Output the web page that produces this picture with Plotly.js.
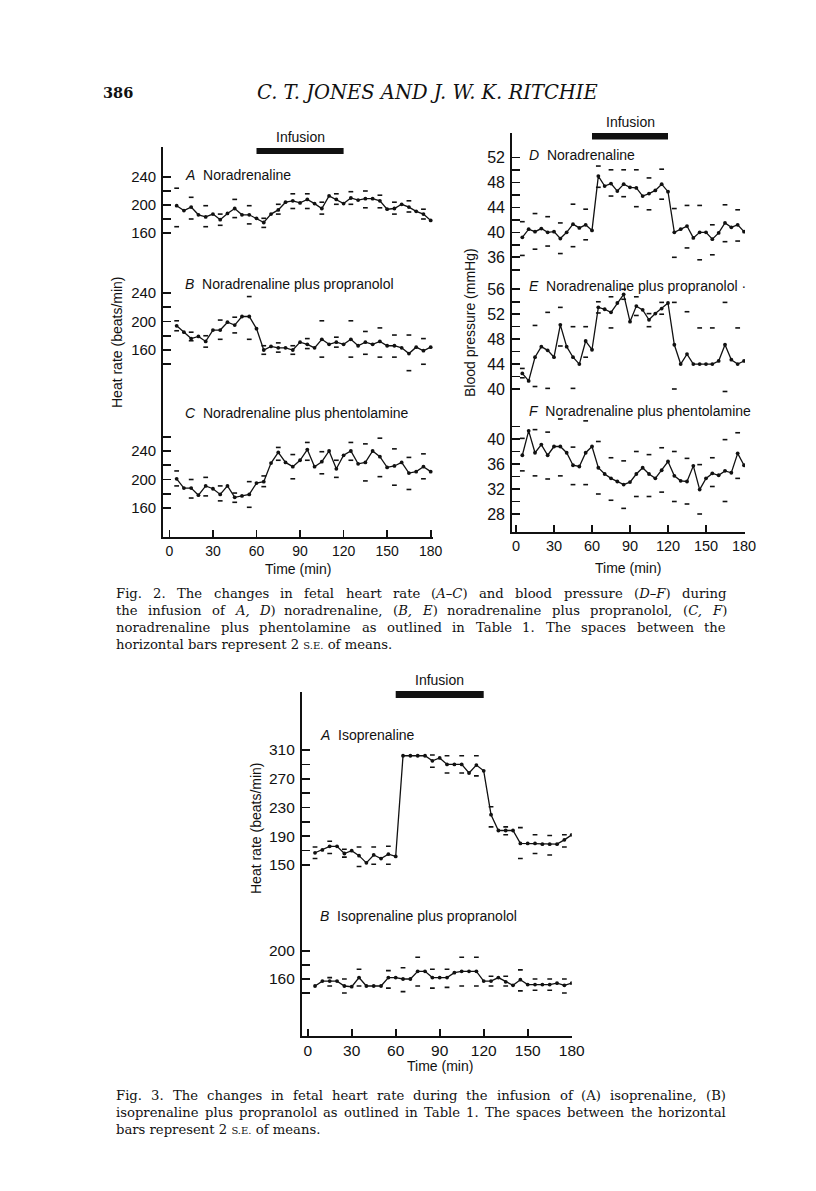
<!DOCTYPE html>
<html><head><meta charset="utf-8">
<script src="https://cdn.plot.ly/plotly-3.0.1.min.js"></script>
<style>html,body{margin:0;padding:0;background:#fff}#chart{width:816px;height:1191px}</style>
</head><body><div id="chart"></div>
<script>
// ---------- data ----------
const time = [5,10,15,20,25,30,35,40,45,50,55,60,65,70,75,80,85,90,95,100,105,110,115,120,125,130,135,140,145,150,155,160,165,170,175,180];
const seTime = [5,15,25,35,45,55,65,75,85,95,105,115,125,135,145,155,165,175];
const infusion = [60,120];
const timeTicks = [0,30,60,90,120,150,180];

// Fig. 2 A-C heart rate (beats/min)
const hrA = [199,192,197,186,183,187,179,188,195,186,186,181,175,187,193,204,206,203,208,202,195,213,208,202,210,207,209,209,206,194,195,201,197,191,187,178];
const hrAHi = [224,211,199,187,208,199,181,201,216,216,204,216,219,220,214,204,206,194];
const hrALo = [169,180,169,171,182,173,168,187,195,195,187,201,201,196,196,187,190,180];
const hrB = [194,185,176,179,172,188,188,199,195,207,207,190,160,165,163,163,160,171,168,163,175,168,171,168,175,166,171,168,172,166,166,163,155,164,159,164];
const hrBHi = [201,185,180,202,206,235,166,170,166,176,201,178,201,186,191,181,181,176];
const hrBLo = [187,173,164,175,184,175,154,157,154,162,150,164,150,154,150,150,131,140];
const hrC = [201,188,188,178,191,187,179,191,175,177,179,195,197,223,238,224,218,227,242,218,225,240,215,234,240,222,224,240,232,217,219,224,209,211,218,211];
const hrCHi = [212,200,203,191,181,197,205,245,235,252,239,227,252,250,258,243,231,236];
const hrCLo = [191,174,177,170,168,161,190,227,201,227,208,203,227,198,204,192,186,201];

// Fig. 2 D-F blood pressure (mmHg)
const bpD = [39.2,40.5,40.1,40.6,40,40.1,39,40,41.3,40.7,41.2,40.3,49,47.4,47.8,46.6,47.7,47.2,47.1,45.8,46.2,46.7,47.7,46.5,40,40.5,41,39.1,40,40,38.9,39.9,41.5,40.8,41.2,40.1];
const bpDHi = [41.7,43,42.5,41.5,44.5,43.7,50.6,50,50,50,48.7,50.1,43.8,44.3,44.3,41.2,44.4,43.6];
const bpDLo = [36.3,37.3,37.8,36.6,37.7,38.8,47.2,45.8,45.7,44.1,43.6,45.3,36,37.5,35.6,36.4,38.5,38.6];
const bpE = [42.5,41.3,45.1,46.8,46.2,45.1,50.3,46.8,45.1,44,47.7,46.3,53.1,52.8,52.3,53.8,55.2,50.8,53.3,52.7,51.1,52.1,52.9,53.8,47.1,44,45.6,44,44,44,44,44.5,47.1,44.7,44,44.5];
const bpEHi = [43.3,50.2,52.3,53.1,50,50,54,54.8,56,54.8,52.1,53.9,53.9,52.4,49.8,49.8,53.9,49.8];
const bpELo = [41.8,40.4,40.1,46.9,40.1,45.1,52.2,49.8,54.4,51.8,50,52,40,38.5,38.2,38.2,39.6,38.2];
const bpF = [37.4,41.3,37.8,39.1,37.4,38.8,38.8,37.8,35.8,35.6,37.8,38.8,35.4,34.4,33.7,33.2,32.7,33.1,34.4,35.4,34.4,33.7,35,36.4,34.1,33.3,33.2,35.7,31.9,33.7,34.5,34.2,34.9,34.6,37.7,35.8];
const bpFHi = [40.1,41.5,41.1,43.2,38.7,42.9,39.6,37,36.5,38,37.5,38.6,38,36.9,35.9,37,39.9,41];
const bpFLo = [34.9,34.1,33.6,34.1,32.7,32.7,31.2,30.2,28.9,30.8,30.8,31.5,30,29.6,28,32.4,30,33.7];

// Fig. 3 A-B heart rate (beats/min)
const isoA = [167,171,176,176,166,170,163,153,164,159,165,162,302,302,302,302,295,299,290,290,290,278,289,281,220,198,198,198,180,180,180,179,179,179,185,192];
const isoAHi = [175,183,172,175,175,176,null,null,303,302,302,302,231,203,202,192,191,192];
const isoALo = [159,166,161,148,151,151,null,null,286,278,278,274,203,192,159,166,164,175];
const isoB = [150,157,157,157,150,149,162,150,150,150,162,162,160,160,171,171,162,162,162,169,171,171,171,157,157,162,156,151,159,152,152,152,152,154,151,154];
const isoBHi = [null,162,160,174,null,172,176,191,174,174,191,191,164,164,173,160,160,160];
const isoBLo = [null,150,140,150,null,147,142,150,147,148,150,150,150,150,143,144,144,140];

// ---------- layout helpers ----------
const W = 816, H = 1191;
const SANS = 'Liberation Sans, Arial, Helvetica, sans-serif';
const SERIF = 'DejaVu Serif, serif';
const px = x => x / W, py = y => 1 - y / H;
function lin(v1, p1, v2, p2, pa, pb) { const k = (p2 - p1) / (v2 - v1); return [v1 + (pa - p1) / k, v1 + (pb - p1) / k]; }

const base = {showgrid:false, zeroline:false, showline:true, linecolor:'#111', linewidth:1.8,
  ticks:'inside', ticklen:8, tickwidth:1.6, tickcolor:'#111', fixedrange:true};

function yax(anchor, top, bot, cal, vals, labels, fs) {
  return Object.assign({}, base, {anchor:anchor, domain:[py(bot), py(top)],
    range: lin(cal[0], cal[1], cal[2], cal[3], bot, top),
    tickmode:'array', tickvals:vals, ticktext:vals.map(v => labels.includes(v) ? String(v) : ''),
    tickfont:{family:SANS, size:fs, color:'#111'}, ticklabelstandoff:2});
}
function xax(anchor, left, right, cal, fs) {
  return Object.assign({}, base, {anchor:anchor, domain:[px(left), px(right)],
    range: lin(cal[0], cal[1], cal[2], cal[3], left, right), ticklen:7,
    tickmode:'array', tickvals:timeTicks, ticktext:timeTicks.map(String),
    tickfont:{family:SANS, size:fs, color:'#111'}});
}

function panel(xa, ya, y, hi, lo) {
  return [
    {x:time, y:y, xaxis:xa, yaxis:ya, type:'scatter', mode:'lines+markers',
     line:{color:'#111', width:1.3}, marker:{color:'#111', size:3.8}, hoverinfo:'skip'},
    {x:seTime.concat(seTime), y:hi.concat(lo), xaxis:xa, yaxis:ya, type:'scatter', mode:'markers',
     marker:{symbol:'line-ew', size:3.4, color:'#111', line:{color:'#111', width:1.6}}, hoverinfo:'skip'}
  ];
}

const data = [].concat(
  panel('x','y',hrA,hrAHi,hrALo),
  panel('x','y2',hrB,hrBHi,hrBLo),
  panel('x','y3',hrC,hrCHi,hrCLo),
  panel('x2','y4',bpD,bpDHi,bpDLo),
  panel('x2','y5',bpE,bpEHi,bpELo),
  panel('x2','y6',bpF,bpFHi,bpFLo),
  panel('x3','y7',isoA,isoAHi,isoALo),
  panel('x3','y8',isoB,isoBHi,isoBLo)
);

const even = (a,b) => { const r=[]; for (let v=a; v<=b; v+=2) r.push(v); return r; };

const layout = {
  width:W, height:H, margin:{l:0,r:0,t:0,b:0}, paper_bgcolor:'#fff', plot_bgcolor:'rgba(0,0,0,0)',
  showlegend:false,
  xaxis:  xax('y3', 163, 433, [0,169.4,180,430.7], 14),
  xaxis2: xax('y6', 512, 745, [0,516,180,744], 14.5),
  xaxis3: xax('y8', 301.7, 571.7, [0,307.7,180,571.7], 15.5),
  yaxis:  yax('x', 147, 262, [240,177,160,233], [160,180,200,220,240], [160,200,240], 15),
  yaxis2: yax('x', 262, 390, [240,293,160,350], [140,160,180,200,220,240], [160,200,240], 15),
  yaxis3: yax('x', 390, 537, [240,451,160,508], [160,180,200,220,240,260], [160,200,240], 15),
  yaxis4: yax('x2', 133, 272, [52,157.3,36,257.3], even(34,52), [36,40,44,48,52], 16),
  yaxis5: yax('x2', 272, 395, [56,289.3,40,389], even(38,56), [40,44,48,52,56], 16),
  yaxis6: yax('x2', 395, 532, [40,439,28,514], even(28,42), [28,32,36,40], 16),
  yaxis7: yax('x3', 692, 900, [310,750,150,865], [150,170,190,210,230,250,270,290,310], [150,190,230,270,310], 15.5),
  yaxis8: yax('x3', 900, 1036, [200,951,160,979], [140,160,180,200], [160,200], 15.5),
  shapes: [
    {type:'rect', xref:'x', yref:'paper', x0:infusion[0], x1:infusion[1], y0:py(154), y1:py(148), fillcolor:'#111', line:{width:0}},
    {type:'rect', xref:'x2', yref:'paper', x0:infusion[0], x1:infusion[1], y0:py(139.5), y1:py(133), fillcolor:'#111', line:{width:0}},
    {type:'rect', xref:'x3', yref:'paper', x0:infusion[0], x1:infusion[1], y0:py(698), y1:py(691), fillcolor:'#111', line:{width:0}}
  ],
  annotations: []
};

function txt(x, y, text, opts) {
  layout.annotations.push(Object.assign({xref:'paper', yref:'paper', x:px(x), y:py(y), text:text,
    showarrow:false, xanchor:'left', yanchor:'middle', font:{family:SANS, size:14, color:'#111'}}, opts || {}));
}
const lbl = (l, s) => '<i>' + l + '</i>  ' + s;

// Infusion labels
['x','x2','x3'].forEach((xr, i) => layout.annotations.push({xref:xr, yref:'paper', x:90, y:py([137,122,680][i]),
  text:'Infusion', showarrow:false, xanchor:'center', yanchor:'middle', font:{family:SANS, size:14, color:'#111'}}));

// Panel labels
txt(183, 175, lbl('A','Noradrenaline'));
txt(183, 284, lbl('B','Noradrenaline plus propranolol'));
txt(183, 413, lbl('C','Noradrenaline plus phentolamine'));
txt(527, 155, lbl('D','Noradrenaline'));
txt(527, 286, lbl('E','Noradrenaline plus propranolol') + ' ·');
txt(527, 411, lbl('F','Noradrenaline plus phentolamine'));
txt(318, 735, lbl('A','Isoprenaline'));
txt(318, 916, lbl('B','Isoprenaline plus propranolol'));

// Axis titles
txt(117, 342, 'Heat rate (beats/min)', {xanchor:'center', textangle:-90});
txt(470, 322, 'Blood pressure (mmHg)', {xanchor:'center', textangle:-90});
txt(256, 828, 'Heat rate (beats/min)', {xanchor:'center', textangle:-90});
txt(298, 569, 'Time (min)', {xanchor:'center'});
txt(628, 568, 'Time (min)', {xanchor:'center'});
txt(440, 1066, 'Time (min)', {xanchor:'center'});

// Page header
txt(101, 92, '<b>386</b>', {font:{family:SERIF, size:14.5, color:'#111'}});
txt(427, 92, '<i>C. T. JONES AND J. W. K. RITCHIE</i>', {xanchor:'center', font:{family:SERIF, size:19.5, color:'#111'}});

// Captions (justified by placing words)
const CAPSIZE = 13.2;
const SMALL = 10;
const ctx = document.createElement('canvas').getContext('2d');
const SEsmall = '<span style="font-size:' + SMALL + 'px">S.E.</span>';
function wordWidth(w) {
  const small = w.includes('S.E.');
  const plain = w.replace(/<[^>]+>/g, '');
  ctx.font = (w.includes('<i>') ? 'italic ' : '') + (small ? SMALL : CAPSIZE) + 'px "DejaVu Serif"';
  return ctx.measureText(plain).width;
}
function capLine(text, y, justify) {
  const font = {family:SERIF, size:CAPSIZE, color:'#111'};
  if (!justify) { txt(115, y, text, {font:font, borderpad:0}); return; }
  const words = text.split(' ');
  const ws = words.map(wordWidth);
  const total = ws.reduce((a, b) => a + b, 0);
  const gap = (725 - 115 - total) / (words.length - 1);
  let x = 115;
  words.forEach((w, i) => { txt(x, y, w, {font:font, borderpad:0}); x += ws[i] + gap; });
}
capLine('Fig. 2. The changes in fetal heart rate (<i>A–C</i>) and blood pressure (<i>D–F</i>) during', 593, true);
capLine('the infusion of <i>A,</i> <i>D</i>) noradrenaline, (<i>B,</i> <i>E</i>) noradrenaline plus propranolol, (<i>C,</i> <i>F</i>)', 610, true);
capLine('noradrenaline plus phentolamine as outlined in Table 1. The spaces between the', 627, true);
capLine('horizontal bars represent 2 ' + SEsmall + ' of means.', 644, false);
capLine('Fig. 3. The changes in fetal heart rate during the infusion of (A) isoprenaline, (B)', 1095, true);
capLine('isoprenaline plus propranolol as outlined in Table 1. The spaces between the horizontal', 1112, true);
capLine('bars represent 2 ' + SEsmall + ' of means.', 1129, false);

Plotly.newPlot('chart', data, layout, {staticPlot:true, displayModeBar:false});
</script>
</body></html>
